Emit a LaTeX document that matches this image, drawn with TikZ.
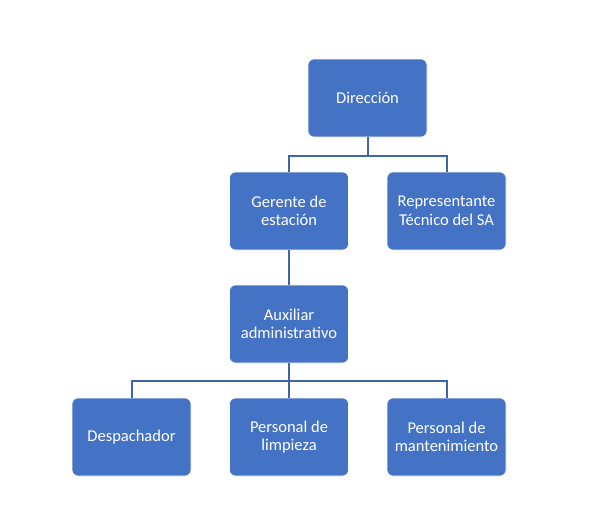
\documentclass[tikz,border=0pt]{standalone}
\usepackage{fontspec}
\setmainfont{Carlito}
\definecolor{boxblue}{HTML}{4472C4}
\definecolor{lineblue}{HTML}{3F65AA}
\begin{document}
\begin{tikzpicture}[x=1pt,y=-1pt,
  orgbox/.style={fill=boxblue, draw=white, line width=0.6pt, rounded corners=6pt,
    minimum width=119pt, minimum height=78pt, text=white, align=center,
    font=\fontsize{16.5}{18.5}\selectfont, inner sep=2pt},
  conn/.style={draw=lineblue, line width=2pt}]
\useasboundingbox (0,0) rectangle (606,509);
\node[orgbox] (dir) at (367.5,98) {Dirección};
\node[orgbox] (ger) at (289,211) {Gerente de\\estación};
\node[orgbox] (rep) at (446.5,211) {Representante\\Técnico del SA};
\node[orgbox] (aux) at (289,324) {Auxiliar\\administrativo};
\node[orgbox] (des) at (131.5,437) {Despachador};
\node[orgbox] (lim) at (289,437) {Personal de\\limpieza};
\node[orgbox] (man) at (446.5,437) {Personal de\\mantenimiento};
\coordinate (j1) at (0,155.5);
\coordinate (j2) at (0,380.5);
\draw[conn] (dir.south) -- (dir.south |- j1);
\draw[conn] (ger.north) -- (ger.north |- j1) -- (rep.north |- j1) -- (rep.north);
\draw[conn] (ger.south) -- (aux.north);
\draw[conn] (aux.south) -- (lim.north);
\draw[conn] (des.north) -- (des.north |- j2) -- (man.north |- j2) -- (man.north);
\end{tikzpicture}
\end{document}
